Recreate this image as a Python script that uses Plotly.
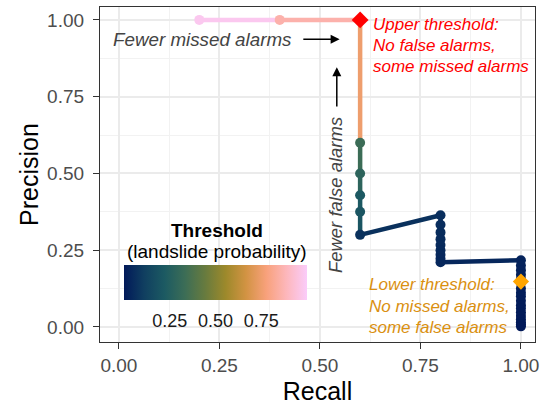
import plotly.graph_objects as go
from plotly.colors import sample_colorscale

# ---- data ----
recall = [0.2, 0.4, 0.6, 0.6, 0.6, 0.6, 0.6, 0.6,
          0.8, 0.8, 0.8, 0.8, 0.8, 0.8, 0.8, 0.8, 0.8,
          1.0, 1.0, 1.0, 1.0, 1.0, 1.0, 1.0, 1.0, 1.0, 1.0,
          1.0, 1.0, 1.0, 1.0, 1.0, 1.0, 1.0, 1.0]
precision = [1.0, 1.0, 1.0, 0.6, 0.5, 0.429, 0.375, 0.3,
             0.364, 0.333, 0.308, 0.286, 0.267, 0.25, 0.235, 0.222, 0.211,
             0.217, 0.2, 0.185, 0.17, 0.156, 0.143, 0.125, 0.111, 0.1,
             0.085, 0.071, 0.06, 0.048, 0.036, 0.025, 0.015, 0.008, 0.002]
threshold = [0.98, 0.86, 0.75, 0.33, 0.28, 0.22, 0.2, 0.07,
             0.06, 0.058, 0.055, 0.052, 0.05, 0.047, 0.045, 0.042, 0.04,
             0.03, 0.028, 0.026, 0.024, 0.022, 0.02, 0.018, 0.016, 0.014,
             0.012, 0.01, 0.008, 0.006, 0.005, 0.004, 0.003, 0.002, 0.0]

upper_pt = (0.6, 1.0)
lower_pt = (1.0, 0.148)

x_ticks = [0.0, 0.25, 0.5, 0.75, 1.0]
x_ticktext = ["0.00", "0.25", "0.50", "0.75", "1.00"]
y_ticks = [0.0, 0.25, 0.5, 0.75, 1.0]
y_ticktext = ["0.00", "0.25", "0.50", "0.75", "1.00"]
cb_ticks = [0.25, 0.5, 0.75]
cb_ticktext = ["0.25", "0.50", "0.75"]

batlow = ["#011959", "#103F60", "#1C5A62", "#3C6D56", "#687B3E",
          "#9D892B", "#D29343", "#F8A17B", "#FDB7BC", "#FACCFA"]
colorscale = [[i / (len(batlow) - 1), c] for i, c in enumerate(batlow)]

FONT = "Liberation Sans, Arial, sans-serif"

fig = go.Figure()

# path segments colored by the starting point's threshold
seg_colors = sample_colorscale(colorscale, threshold)
for i in range(len(recall) - 1):
    fig.add_trace(go.Scatter(
        x=[recall[i], recall[i + 1]], y=[precision[i], precision[i + 1]],
        mode="lines", line=dict(color=seg_colors[i], width=4.5),
        hoverinfo="skip", showlegend=False))

# points
fig.add_trace(go.Scatter(
    x=recall, y=precision, mode="markers", showlegend=False,
    marker=dict(size=10, color=threshold, colorscale=colorscale, cmin=0, cmax=1,
                showscale=True,
                colorbar=dict(orientation="h", x=0.2655, xanchor="center",
                              y=0.2299, yanchor="top", len=183, lenmode="pixels",
                              thickness=35, xpad=0, ypad=0, outlinewidth=0,
                              ticks="outside", ticklen=6, tickcolor="rgba(0,0,0,0)",
                              tickvals=cb_ticks, ticktext=cb_ticktext,
                              tickfont=dict(size=18, color="#1A1A1A", family=FONT)))))

# threshold diamonds
fig.add_trace(go.Scatter(x=[upper_pt[0]], y=[upper_pt[1]], mode="markers",
                         marker=dict(symbol="diamond", size=13, color="#FF0000"),
                         showlegend=False))
fig.add_trace(go.Scatter(x=[lower_pt[0]], y=[lower_pt[1]], mode="markers",
                         marker=dict(symbol="diamond", size=12.5, color="#FFA500"),
                         showlegend=False))

ann = []
def txt(x, y, t, color, xanchor="left", size=19, textangle=0, xref="x", yref="y"):
    ann.append(dict(x=x, y=y, xref=xref, yref=yref, text=t, showarrow=False,
                    xanchor=xanchor, yanchor="middle", textangle=textangle,
                    font=dict(size=size, color=color, family=FONT)))

red = "#FF0000"
orng = "#DA9010"
gray = "#444444"
for k, line in enumerate(["Upper threshold:", "No false alarms,", "some missed alarms"]):
    txt(0.627, (327 - (25 + 21 * k)) / 307, "<i>" + line + "</i>", red, size=17)
for k, line in enumerate(["Lower threshold:", "No missed alarms,", "some false alarms"]):
    txt(0.617, (327 - (285 + 21.3 * k)) / 307, "<i>" + line + "</i>", orng, size=17)

txt(0.432, 0.937, "<i>Fewer missed alarms</i>", gray, xanchor="right", size=18.8)
txt(0.539, 0.428, "<i>Fewer false alarms</i>", gray, xanchor="center", textangle=-90, size=18.5)

# arrows
ann.append(dict(x=0.549, y=0.937, ax=0.455, ay=0.937, xref="x", yref="y",
                axref="x", ayref="y", text="", showarrow=True, arrowhead=2,
                arrowsize=1.2, arrowwidth=1.5, arrowcolor="black"))
ann.append(dict(x=0.542, y=0.846, ax=0.542, ay=0.713, xref="x", yref="y",
                axref="x", ayref="y", text="", showarrow=True, arrowhead=2,
                arrowsize=1.2, arrowwidth=1.5, arrowcolor="black"))

# legend title
txt(0.243, 0.314, "<b>Threshold</b>", "black", xanchor="center")
txt(0.243, 0.245, "(landslide probability)", "black", xanchor="center")

axis_common = dict(showline=True, mirror=True, linecolor="#333333", linewidth=1.2,
                   ticks="outside", ticklen=6, tickwidth=1.2, tickcolor="#333333",
                   showgrid=True, gridcolor="#EBEBEB", gridwidth=1.8, zeroline=False,
                   tickfont=dict(size=19, color="#4D4D4D", family=FONT))

fig.update_layout(
    width=543, height=405,
    margin=dict(l=100, r=8, t=7, b=63, autoexpand=False),
    paper_bgcolor="white", plot_bgcolor="white",
    font=dict(family=FONT),
    annotations=ann,
    xaxis=dict(range=[-0.047, 1.035], tickvals=x_ticks, ticktext=x_ticktext,
               ticklabelstandoff=0,
               title=dict(text="Recall", font=dict(size=25, color="black", family=FONT),
                          standoff=8),
               minor=dict(tickvals=[0.125, 0.375, 0.625, 0.875], showgrid=True,
                          gridcolor="#F2F2F2", gridwidth=1, ticks=""),
               **axis_common),
    yaxis=dict(range=[-0.049, 1.042], tickvals=y_ticks, ticktext=y_ticktext,
               ticklabelstandoff=5,
               title=dict(text="Precision", font=dict(size=25, color="black", family=FONT),
                          standoff=1),
               minor=dict(tickvals=[0.125, 0.375, 0.625, 0.875], showgrid=True,
                          gridcolor="#F2F2F2", gridwidth=1, ticks=""),
               **axis_common),
)

fig.write_html("out.html", config={"displayModeBar": False},
               post_script="document.body.style.margin='0';document.body.style.padding='0';")
